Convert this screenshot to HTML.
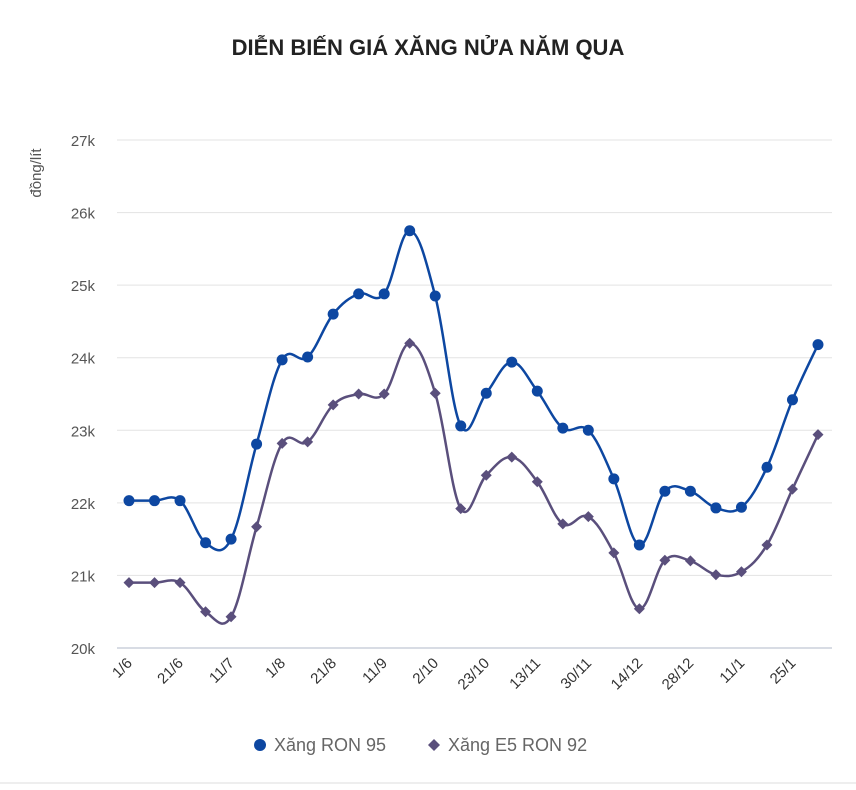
<!DOCTYPE html>
<html><head><meta charset="utf-8"><style>
body{margin:0;background:#fff;font-family:"Liberation Sans",sans-serif}
</style></head><body>
<svg width="856" height="785" viewBox="0 0 856 785" xmlns="http://www.w3.org/2000/svg" font-family="Liberation Sans, sans-serif">
<rect width="856" height="785" fill="#fff"/>
<text x="428" y="55" text-anchor="middle" font-size="22" font-weight="bold" fill="#222">DIỄN BIẾN GIÁ XĂNG NỬA NĂM QUA</text>
<text transform="translate(41,173) rotate(-90)" text-anchor="middle" font-size="15" fill="#555">đồng/lít</text>
<g id="grid"></g><g id="xl"></g><g id="series"></g>
<g>
<g><circle cx="260" cy="745" r="6" fill="#0d47a1"/><text x="274" y="751" font-size="18" fill="#666">Xăng RON 95</text></g>
<g><path d="M434 739 L440 745 L434 751 L428 745Z" fill="#5a4f7c"/><text x="448" y="751" font-size="18" fill="#666">Xăng E5 RON 92</text></g>
</g>
<line x1="0" y1="783" x2="856" y2="783" stroke="#ddd"/>
</svg>
<script>
const categories=["1/6","","21/6","","11/7","","1/8","","21/8","","11/9","","2/10","","23/10","","13/11","","30/11","","14/12","","28/12","","11/1","","25/1",""];
const ron95=[22.03,22.03,22.03,21.45,21.50,22.81,23.97,24.01,24.60,24.88,24.88,25.75,24.85,23.06,23.51,23.94,23.54,23.03,23.00,22.33,21.42,22.16,22.16,21.93,21.94,22.49,23.42,24.18];
const e5=[20.90,20.90,20.90,20.50,20.43,21.67,22.82,22.84,23.35,23.50,23.50,24.20,23.51,21.92,22.38,22.63,22.29,21.71,21.81,21.31,20.54,21.21,21.20,21.01,21.05,21.42,22.19,22.94];
const yTicks=[20,21,22,23,24,25,26,27];
const yTickLabels=["20k","21k","22k","23k","24k","25k","26k","27k"];
const NS="http://www.w3.org/2000/svg";
const xs=i=>129+i*(818-129)/(categories.length-1);
const ys=v=>648-(v-20)*(648-140)/7;
function mk(t,a,p){const e=document.createElementNS(NS,t);for(const k in a)e.setAttribute(k,a[k]);p.appendChild(e);return e;}
const grid=document.getElementById('grid');
yTicks.forEach((v,i)=>{
 const l=mk('line',{x1:117,x2:832,y1:ys(v),y2:ys(v),stroke:i==0?'#ccd0dc':'#e3e3e3','stroke-width':i==0?1.5:1},grid);
 
 
 const t=mk('text',{x:95,y:ys(v)+6,'text-anchor':'end','font-size':15,fill:'#555'},grid);
 t.textContent=yTickLabels[i];
 
 
});
const xl=document.getElementById('xl');
categories.forEach((c,i)=>{if(!c)return;
 const t=mk('text',{transform:`translate(${xs(i)+4},664) rotate(-45)`,'text-anchor':'end','font-size':15,fill:'#333'},xl);
 t.textContent=c;
 
 
});
function path(vals){const p=vals.map((v,i)=>[xs(i),ys(v)]);let d=`M${p[0][0]},${p[0][1]}`;
 for(let i=0;i<p.length-1;i++){const p0=p[i-1]||p[i],p1=p[i],p2=p[i+1],p3=p[i+2]||p2;const k=0.18;
  d+=` C${p1[0]+(p2[0]-p0[0])*k},${p1[1]+(p2[1]-p0[1])*k} ${p2[0]-(p3[0]-p1[0])*k},${p2[1]-(p3[1]-p1[1])*k} ${p2[0]},${p2[1]}`;}
 return d;}
const g=document.getElementById('series');
[[e5,'#5a4f7c','diamond','e5'],[ron95,'#0d47a1','circle','ron95']].forEach(([vals,col,sh,nm])=>{
 const p=mk('path',{d:path(vals),fill:'none',stroke:col,'stroke-width':2.5},g);
 
 
 vals.forEach((v,i)=>{const x=xs(i),y=ys(v);let m;
  if(sh=='circle')m=mk('circle',{cx:x,cy:y,r:5.5,fill:col},g);
  else m=mk('path',{d:`M${x} ${y-5.5}L${x+5.5} ${y}L${x} ${y+5.5}L${x-5.5} ${y}Z`,fill:col},g);
  
  
 });
});
</script>
</body></html>
